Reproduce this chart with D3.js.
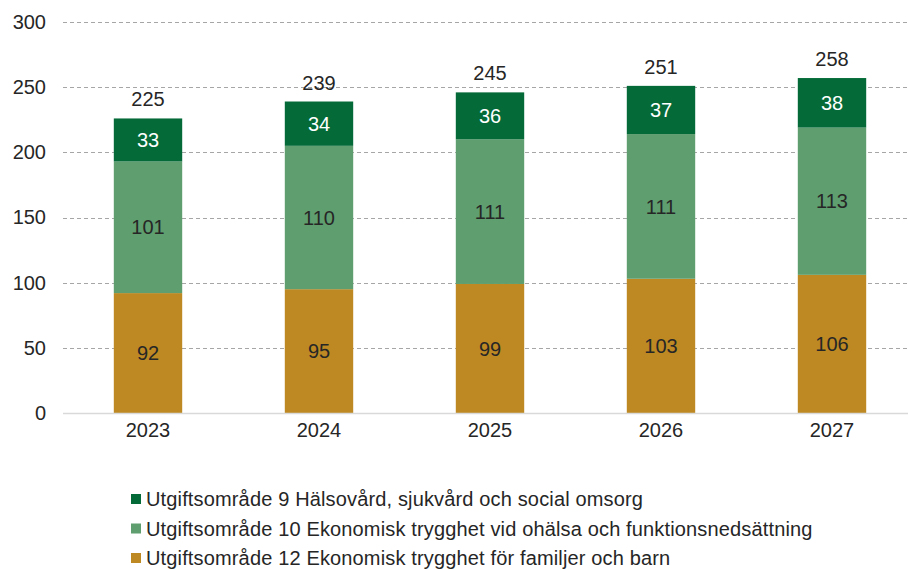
<!DOCTYPE html>
<html>
<head>
<meta charset="utf-8">
<script src="https://cdn.jsdelivr.net/npm/d3@7"></script>
<style>
  html, body { margin: 0; padding: 0; background: #fff; }
  svg { display: block; font-family: "Liberation Sans", Arial, sans-serif; }
</style>
</head>
<body>
<svg id="chart" width="908" height="569"></svg>
<script>
// Years on the x axis
const years = ["2023", "2024", "2025", "2026", "2027"];
// Expenditure areas (billion SEK), bottom to top in the stack
const uo12 = [92, 95, 99, 103, 106];
const uo10 = [101, 110, 111, 111, 113];
const uo9 = [33, 34, 36, 37, 38];
// Totals printed above each column
const totals = [225, 239, 245, 251, 258];
// Y axis ticks
const yTicks = [0, 50, 100, 150, 200, 250, 300];
// Legend entries, top to bottom
const legendLabels = [
  "Utgiftsområde 9 Hälsovård, sjukvård och social omsorg",
  "Utgiftsområde 10 Ekonomisk trygghet vid ohälsa och funktionsnedsättning",
  "Utgiftsområde 12 Ekonomisk trygghet för familjer och barn"
];

const colors = { uo9: "#046B38", uo10: "#5F9E6F", uo12: "#BE8923" };
const textDark = "#262626";
const fontSize = 20;

const svg = d3.select("#chart");

const x = d3.scaleBand().domain(years).range([62.5, 917.5]).paddingInner(0.6).paddingOuter(0.3);
const y = d3.scaleLinear().domain([0, 300]).range([413, 22]);

// Gridlines
svg.append("g").selectAll("line")
  .data(yTicks.filter(d => d > 0))
  .join("line")
  .attr("x1", 63).attr("x2", 908)
  .attr("y1", d => Math.round(y(d)) + 0.5).attr("y2", d => Math.round(y(d)) + 0.5)
  .attr("stroke", "#a6a6a6").attr("stroke-width", 1)
  .attr("stroke-dasharray", "4,3");

// Y axis tick labels
const yAxis = d3.axisLeft(y).tickValues(yTicks).tickSize(0).tickPadding(0);
const yg = svg.append("g").attr("transform", "translate(46,0)").call(yAxis);
yg.select(".domain").remove();
yg.selectAll("text")
  .attr("font-size", fontSize).attr("fill", textDark)
  .attr("font-family", "Liberation Sans, Arial, sans-serif");

// Stacked data
const rows = years.map((yr, i) => ({ year: yr, uo12: uo12[i], uo10: uo10[i], uo9: uo9[i] }));
const keys = ["uo12", "uo10", "uo9"];
const stack = d3.stack().keys(keys)(rows);

const layers = svg.append("g").selectAll("g.layer")
  .data(stack)
  .join("g")
  .attr("fill", d => colors[d.key]);

layers.selectAll("rect")
  .data(d => d)
  .join("rect")
  .attr("x", d => x(d.data.year))
  .attr("width", x.bandwidth())
  .attr("y", d => y(d[1]))
  .attr("height", d => y(d[0]) - y(d[1]));

// Segment value labels
layers.each(function (layer) {
  d3.select(this).selectAll("text")
    .data(layer)
    .join("text")
    .attr("x", d => x(d.data.year) + x.bandwidth() / 2)
    .attr("y", d => (y(d[0]) + y(d[1])) / 2)
    .attr("dy", "0.36em")
    .attr("text-anchor", "middle")
    .attr("font-size", fontSize)
    .attr("fill", layer.key === "uo9" ? "#ffffff" : textDark)
    .text(d => d.data[layer.key]);
});

// Baseline
svg.append("line")
  .attr("x1", 63).attr("x2", 908)
  .attr("y1", Math.round(y(0)) + 0.5).attr("y2", Math.round(y(0)) + 0.5)
  .attr("stroke", "#d9d9d9").attr("stroke-width", 1.5);

// Totals above columns
svg.append("g").selectAll("text")
  .data(stack[stack.length - 1])
  .join("text")
  .attr("x", d => x(d.data.year) + x.bandwidth() / 2)
  .attr("y", d => y(d[1]) - 12)
  .attr("text-anchor", "middle")
  .attr("font-size", fontSize)
  .attr("fill", textDark)
  .text((d, i) => totals[i]);

// X axis labels
const xAxis = d3.axisBottom(x).tickSize(0).tickPadding(0);
const xg = svg.append("g").attr("transform", "translate(0,423)").call(xAxis);
xg.select(".domain").remove();
xg.selectAll("text")
  .attr("font-size", fontSize).attr("fill", textDark)
  .attr("dy", "0.71em")
  .attr("font-family", "Liberation Sans, Arial, sans-serif");

// Legend
const legendColors = [colors.uo9, colors.uo10, colors.uo12];
const legend = svg.append("g").selectAll("g")
  .data(legendLabels)
  .join("g")
  .attr("transform", (d, i) => `translate(131,${499 + i * 29.5})`);
legend.append("rect")
  .attr("x", 0).attr("y", -5).attr("width", 10).attr("height", 10)
  .attr("fill", (d, i) => legendColors[i]);
legend.append("text")
  .attr("x", 15).attr("dy", "0.36em")
  .attr("font-size", fontSize).attr("fill", textDark)
  .attr("letter-spacing", 0.15)
  .text(d => d);
</script>
</body>
</html>
